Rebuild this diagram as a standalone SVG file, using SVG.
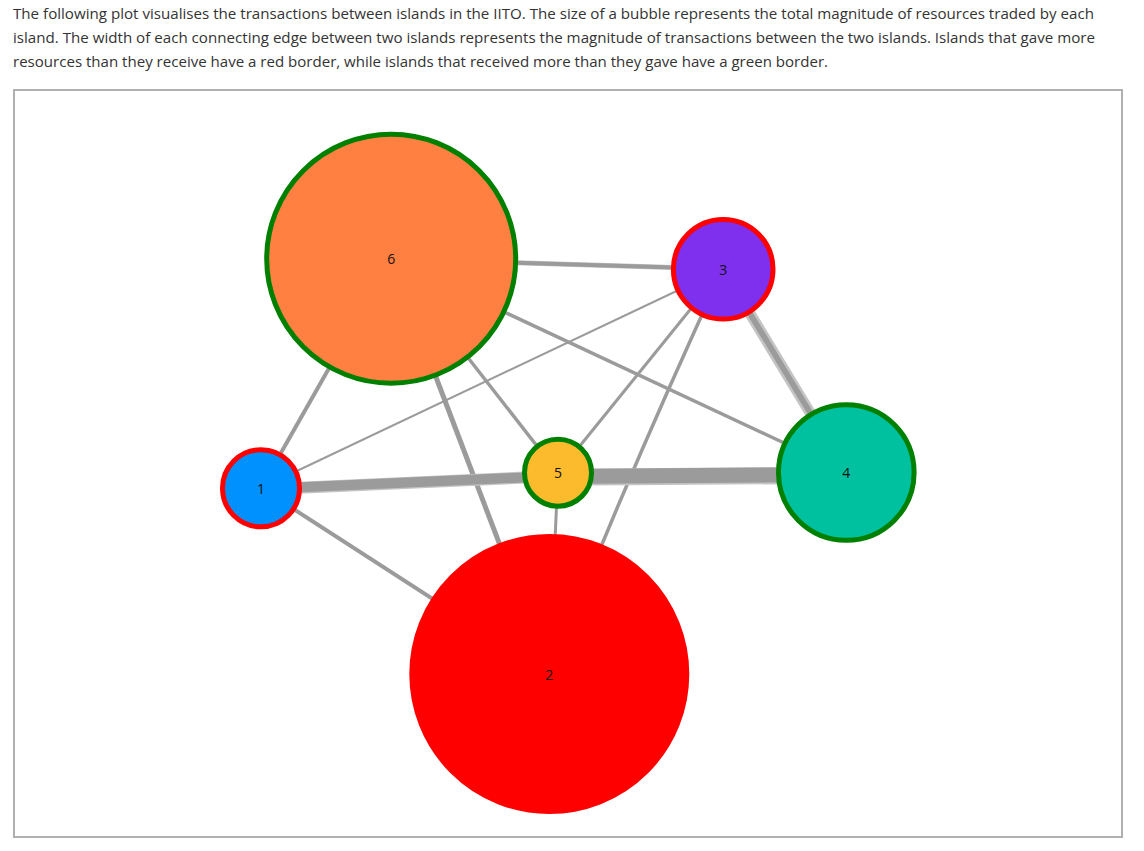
<svg xmlns="http://www.w3.org/2000/svg" width="1144" height="851" viewBox="0 0 1144 851">
<style>
.desc{font-family:"Open Sans","Noto Sans","Liberation Sans",sans-serif;font-size:15px;fill:#333}
.lbl{font-family:"Open Sans","Noto Sans","Liberation Sans",sans-serif;font-size:14px;fill:#111;text-anchor:middle}
.lo{stroke:#c4c4c4;fill:none;stroke-linecap:butt}
.ld{stroke:#9b9b9b;fill:none;stroke-linecap:butt}
.nd{stroke-width:5}
</style>
<rect width="1144" height="851" fill="#fff"/>
<text class="desc" x="13" y="19" textLength="1081" lengthAdjust="spacingAndGlyphs">The following plot visualises the transactions between islands in the IITO. The size of a bubble represents the total magnitude of resources traded by each</text>
<text class="desc" x="13" y="43" textLength="1082" lengthAdjust="spacingAndGlyphs">island. The width of each connecting edge between two islands represents the magnitude of transactions between the two islands. Islands that gave more</text>
<text class="desc" x="13" y="67" textLength="815" lengthAdjust="spacingAndGlyphs">resources than they receive have a red border, while islands that received more than they gave have a green border.</text>
<rect x="14" y="90" width="1108" height="747" fill="none" stroke="#b0b0b0" stroke-width="2"/>
<g id="connectors">
<line class="lo" x1="391" y1="259" x2="723" y2="269" stroke-width="5"/>
<line class="ld" x1="391" y1="259" x2="723" y2="269" stroke-width="4"/>
<line class="ld" x1="391" y1="259" x2="846" y2="472" stroke-width="3.5"/>
<line class="ld" x1="391" y1="259" x2="558" y2="473" stroke-width="3.5"/>
<line class="ld" x1="391" y1="259" x2="549" y2="674" stroke-width="5"/>
<line class="ld" x1="391" y1="259" x2="261" y2="488" stroke-width="4"/>
<line class="ld" x1="261" y1="488" x2="723" y2="269" stroke-width="2"/>
<line class="ld" x1="261" y1="488" x2="549" y2="674" stroke-width="4"/>
<line class="ld" x1="723" y1="269" x2="558" y2="473" stroke-width="3"/>
<path class="ld" d="M723,269 Q630.5,469 549,674" stroke-width="3.5"/>
<line class="ld" x1="558" y1="473" x2="549" y2="674" stroke-width="3"/>
<line class="lo" x1="723" y1="269" x2="846" y2="472" stroke-width="11"/>
<line class="ld" x1="723" y1="269" x2="846" y2="472" stroke-width="5.7"/>
<line class="lo" x1="261" y1="489.5" x2="558" y2="476" stroke-width="12"/>
<line class="ld" x1="261" y1="489" x2="558" y2="476" stroke-width="10"/>
<line class="lo" x1="558" y1="477.3" x2="846" y2="475.3" stroke-width="17"/>
<line class="ld" x1="558" y1="476.5" x2="846" y2="474.5" stroke-width="15"/>
</g>
<g id="node-6"><circle class="nd" cx="391.2" cy="258.7" r="124.5" fill="#ff8041" stroke="#008000"/><text class="lbl" x="391.2" y="264">6</text></g>
<g id="node-3"><circle class="nd" cx="723.2" cy="269.2" r="49.8" fill="#7f30ee" stroke="#ff0000"/><text class="lbl" x="723.2" y="274.5">3</text></g>
<g id="node-4"><circle class="nd" cx="846.3" cy="472.5" r="67.8" fill="#00c19f" stroke="#008000"/><text class="lbl" x="846.3" y="478">4</text></g>
<g id="node-5"><circle class="nd" cx="558" cy="472.7" r="33.5" fill="#fbbb2d" stroke="#008000"/><text class="lbl" x="558" y="478">5</text></g>
<g id="node-1"><circle class="nd" cx="261" cy="488.3" r="38.5" fill="#0091ff" stroke="#ff0000"/><text class="lbl" x="261" y="493.5">1</text></g>
<g id="node-2"><circle class="nd" cx="549.3" cy="674" r="137.5" fill="#ff0000" stroke="#ff0000"/><text class="lbl" x="549.3" y="679.5">2</text></g>
</svg>
